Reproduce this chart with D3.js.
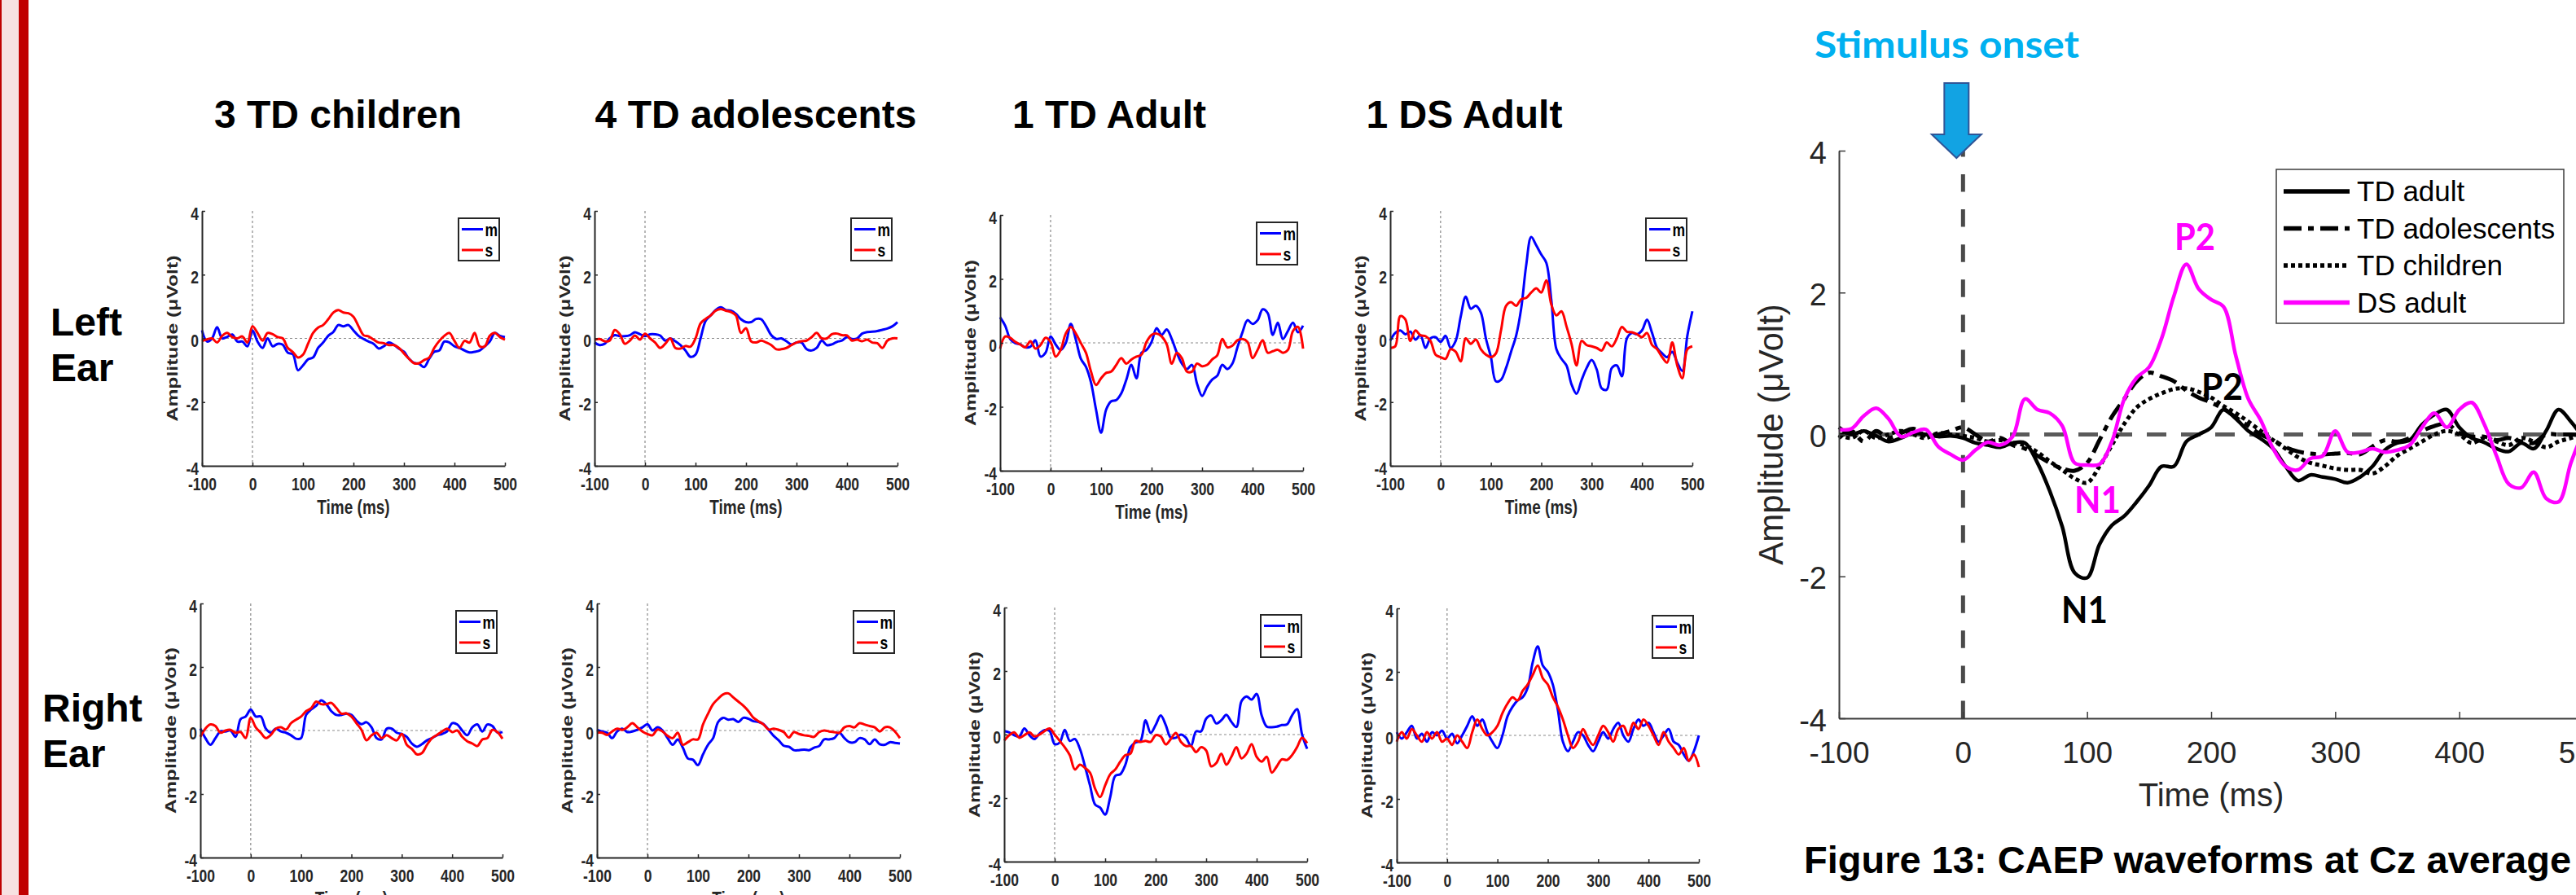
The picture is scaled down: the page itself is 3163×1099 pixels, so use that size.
<!DOCTYPE html>
<html>
<head>
<meta charset="utf-8">
<script src="https://cdn.jsdelivr.net/npm/d3@7"></script>
<style>
  body { margin: 0; background: #fff; }
  svg { display: block; }
</style>
</head>
<body>
<div id="container"></div>
<script>
/* CONSTANTS AND GLOBALS */
const width = 3163,
  height = 1099,
  K = 1.3, // the small panels are stretched vertically in the original
  FONT = "'Liberation Sans', Arial, Helvetica, sans-serif";

/* DATA */
// sample times (ms)
const times = [-100, -90, -80, -70, -60, -50, -40, -30, -20, -10,
  0, 10, 20, 30, 40, 50, 60, 70, 80, 90,
  100, 110, 120, 130, 140, 150, 160, 170, 180, 190,
  200, 210, 220, 230, 240, 250, 260, 270, 280, 290,
  300, 310, 320, 330, 340, 350, 360, 370, 380, 390,
  400, 410, 420, 430, 440, 450, 460, 470, 480, 490, 500];

const groupTitles = ["3 TD children", "4 TD adolescents", "1 TD Adult", "1 DS Adult"];
const earLabels = [["Left", "Ear"], ["Right", "Ear"]];
const legendKeys = ["m", "s"];
const xTicks = [-100, 0, 100, 200, 300, 400, 500];
const yTicks = [-4, -2, 0, 2, 4];

// left ear, amplitude (uV)
const childrenLeftM = [0.25, -0.1, 0.0, 0.35, 0.0, 0.05, 0.12, -0.1, -0.1, -0.25,
  0.25, -0.1, -0.3, 0.0, -0.25, -0.17, -0.2, -0.45, -0.5, -1.0,
  -0.85, -0.66, -0.6, -0.3, -0.13, 0.08, 0.2, 0.42, 0.38, 0.42,
  0.25, 0.08, -0.02, -0.1, -0.17, -0.32, -0.25, -0.13, -0.2, -0.32,
  -0.42, -0.64, -0.77, -0.8, -0.9, -0.64, -0.42, -0.38, -0.1, -0.13,
  -0.25, -0.3, -0.38, -0.44, -0.42, -0.38, -0.25, -0.1, 0.17, 0.08, 0.04];
const childrenLeftS = [-0.08, -0.03, 0.0, -0.13, 0.08, 0.17, 0.04, 0.0, 0.06, -0.13,
  0.38, 0.17, -0.07, 0.17, 0.13, 0.04, 0.0, -0.3, -0.43, -0.6,
  -0.51, -0.17, 0.17, 0.34, 0.42, 0.6, 0.81, 0.89, 0.81, 0.79,
  0.68, 0.38, 0.1, 0.06, -0.04, -0.13, -0.15, -0.21, -0.21, -0.3,
  -0.47, -0.64, -0.78, -0.78, -0.68, -0.6, -0.3, -0.08, 0.08, 0.17,
  -0.08, -0.3, -0.08, -0.13, 0.17, -0.25, -0.25, 0.08, 0.17, 0.04, -0.04];
const adolLeftM = [-0.13, -0.21, -0.17, 0.0, 0.1, 0.07, 0.07, 0.1, 0.19, 0.13,
  0.07, 0.13, 0.13, 0.09, -0.07, 0.0, -0.09, -0.21, -0.38, -0.58,
  -0.51, 0.0, 0.55, 0.72, 0.89, 0.98, 0.89, 0.87, 0.77, 0.6,
  0.51, 0.51, 0.61, 0.6, 0.38, 0.1, -0.02, 0.0, -0.09, -0.19,
  -0.13, -0.13, -0.34, -0.38, -0.3, -0.07, -0.21, -0.19, -0.11, -0.07,
  0.04, -0.02, 0.0, 0.15, 0.2, 0.21, 0.23, 0.27, 0.31, 0.38, 0.51];
const adolLeftS = [-0.04, -0.02, -0.09, -0.07, 0.26, 0.13, -0.17, -0.07, 0.09, -0.04,
  0.15, 0.0, -0.13, -0.3, -0.17, 0.0, -0.3, -0.32, -0.24, -0.26,
  0.0, 0.47, 0.61, 0.72, 0.87, 0.92, 0.87, 0.83, 0.72, 0.17,
  0.32, -0.09, -0.13, -0.07, -0.13, -0.21, -0.34, -0.34, -0.3, -0.21,
  -0.13, -0.09, -0.07, 0.04, 0.17, 0.0, 0.0, 0.13, 0.15, 0.1,
  0.09, -0.07, -0.04, -0.09, -0.04, -0.13, -0.15, -0.3, -0.07, 0.0, 0.0];
const adultLeftM = [0.8, 0.54, 0.12, -0.01, -0.05, -0.14, -0.12, 0.08, -0.43, -0.31,
  0.2, -0.05, -0.22, -0.01, 0.59, 0.1, -0.5, -0.75, -1.24, -2.09,
  -2.81, -2.09, -1.83, -1.79, -1.58, -1.15, -0.69, -1.11, -0.31, -0.22,
  0.03, 0.46, 0.25, 0.42, 0.12, -0.31, -0.65, -0.82, -0.69, -1.28,
  -1.66, -1.37, -1.15, -1.03, -0.69, -0.82, -0.65, -0.14, 0.33, 0.71,
  0.59, 0.71, 1.05, 0.93, 0.25, 0.63, 0.12, 0.37, 0.63, 0.33, 0.54];
const adultLeftS = [-0.18, 0.2, 0.16, 0.03, -0.05, -0.14, 0.05, -0.18, -0.07, 0.16,
  0.03, -0.43, -0.22, 0.29, 0.5, 0.29, -0.01, -0.31, -0.9, -1.32,
  -1.11, -0.94, -0.9, -0.69, -0.48, -0.65, -0.52, -0.43, -0.37, 0.03,
  0.25, 0.29, 0.2, -0.05, -0.65, -0.31, -0.48, -0.9, -0.9, -0.65,
  -0.73, -0.69, -0.52, -0.39, 0.12, -0.14, -0.09, 0.08, 0.12, 0.03,
  -0.48, -0.22, 0.08, -0.31, -0.26, -0.22, -0.31, -0.22, 0.37, 0.5, -0.18];
const dsLeftM = [-0.07, 0.17, 0.25, 0.13, 0.21, -0.04, 0.1, -0.3, 0.0, 0.04,
  -0.11, 0.08, -0.3, -0.08, 0.68, 1.31, 0.93, 1.02, 0.81, 0.0,
  -0.59, -1.35, -1.3, -0.93, -0.42, 0.08, 0.93, 2.29, 3.18, 2.92,
  2.63, 2.37, 1.19, -0.34, -0.64, -0.85, -1.44, -1.74, -1.31, -0.93,
  -0.68, -0.97, -1.57, -1.61, -0.93, -0.85, -1.19, 0.0, 0.17, 0.13,
  0.25, 0.59, 0.17, -0.3, -0.47, -0.59, -0.42, -0.76, -1.02, 0.08, 0.85];
const dsLeftS = [-0.3, -0.25, 0.7, 0.6, -0.08, 0.25, 0.1, 0.07, -0.08, -0.51,
  -0.59, -0.64, -0.34, -0.42, -0.72, 0.0, -0.17, -0.04, -0.34, -0.51,
  -0.59, -0.47, 0.25, 1.02, 1.14, 1.02, 1.23, 1.27, 1.44, 1.57,
  1.44, 1.82, 1.06, 0.72, 0.85, 0.38, -0.17, -0.85, -0.08, -0.21,
  -0.25, -0.3, -0.38, -0.13, -0.25, 0.0, 0.36, 0.21, 0.19, 0.13,
  0.04, 0.17, -0.21, -0.34, -0.59, -0.76, -0.13, -0.85, -1.25, -0.34, -0.25];

// right ear
const childrenRightM = [0.06, -0.24, -0.45, -0.24, -0.03, -0.03, 0.0, -0.2, 0.36, 0.44,
  0.66, 0.44, 0.44, 0.06, -0.07, 0.06, -0.03, -0.07, -0.15, -0.26,
  -0.24, 0.49, 0.66, 0.78, 0.95, 0.83, 0.61, 0.49, 0.49, 0.53,
  0.49, 0.31, 0.2, 0.26, 0.1, -0.24, -0.28, 0.06, 0.06, -0.07,
  -0.11, -0.2, -0.41, -0.51, -0.43, -0.31, -0.24, -0.15, -0.11, -0.03,
  0.23, 0.19, 0.0, -0.15, 0.1, 0.19, -0.03, 0.19, 0.14, -0.07, -0.05];
const childrenRightS = [-0.2, 0.06, 0.19, 0.14, -0.07, 0.0, 0.02, -0.07, -0.05, -0.24,
  0.4, 0.1, -0.07, -0.24, -0.14, 0.06, 0.1, 0.03, 0.23, 0.34,
  0.44, 0.61, 0.7, 0.91, 0.83, 0.83, 0.87, 0.71, 0.53, 0.54,
  0.44, 0.23, 0.02, -0.31, -0.15, -0.07, -0.24, -0.15, -0.24, -0.31,
  -0.11, -0.45, -0.58, -0.75, -0.71, -0.45, -0.24, -0.14, -0.03, 0.06,
  -0.05, 0.0, -0.2, -0.34, -0.41, -0.49, -0.28, -0.24, 0.02, -0.05, -0.26];
const adolRightM = [0.02, -0.03, -0.07, -0.24, -0.03, 0.06, -0.05, -0.03, 0.02, 0.1,
  0.2, 0.0, 0.1, 0.0, -0.24, -0.45, -0.28, -0.54, -0.88, -0.92,
  -1.09, -0.75, -0.45, -0.24, 0.27, 0.4, 0.34, 0.36, 0.27, 0.4,
  0.37, 0.29, 0.27, 0.2, 0.02, -0.17, -0.31, -0.48, -0.51, -0.62,
  -0.62, -0.6, -0.62, -0.54, -0.49, -0.28, -0.28, -0.24, -0.07, -0.24,
  -0.37, -0.37, -0.24, -0.28, -0.43, -0.28, -0.43, -0.45, -0.37, -0.39, -0.41];
const adolRightS = [-0.07, -0.07, -0.14, -0.03, 0.06, 0.02, 0.1, 0.23, 0.1, -0.03,
  -0.11, -0.15, 0.03, -0.03, -0.17, -0.24, -0.07, -0.45, -0.37, -0.28,
  -0.28, 0.19, 0.53, 0.83, 1.0, 1.14, 1.17, 1.04, 0.91, 0.78,
  0.61, 0.4, 0.29, 0.19, 0.03, 0.06, 0.02, -0.05, -0.22, -0.05,
  -0.11, -0.15, -0.17, -0.2, -0.05, 0.0, -0.03, -0.05, -0.07, 0.1,
  0.14, 0.1, 0.23, 0.19, 0.14, 0.1, -0.03, 0.1, 0.1, -0.03, -0.24];
const adultRightM = [0.11, 0.07, -0.02, -0.06, 0.19, -0.02, -0.14, 0.03, 0.14, 0.11,
  -0.3, -0.25, 0.15, -0.2, -0.14, -0.45, -1.0, -1.6, -2.2, -2.3,
  -2.52, -1.97, -1.3, -1.25, -0.95, -0.4, -0.25, -0.2, 0.45, 0.05,
  0.3, 0.6, 0.3, -0.1, -0.1, 0.0, -0.1, -0.36, 0.1, 0.1,
  0.5, 0.6, 0.35, 0.45, 0.62, 0.4, 0.24, 1.05, 1.2, 1.1,
  1.28, 0.6, 0.25, 0.23, 0.25, 0.3, 0.32, 0.6, 0.8, 0.0, -0.45];
const adultRightS = [-0.19, -0.02, 0.07, -0.1, -0.02, 0.07, -0.06, 0.0, 0.11, 0.19,
  0.0, -0.2, -0.4, -0.65, -1.1, -0.95, -1.05, -1.2, -1.7, -1.97,
  -1.6, -1.25, -1.1, -0.85, -0.65, -0.6, -0.2, -0.23, -0.2, -0.23,
  -0.02, -0.06, -0.31, -0.14, 0.05, -0.23, -0.36, -0.36, -0.55, -0.4,
  -0.5, -1.0, -0.9, -0.6, -0.95, -0.7, -0.4, -0.75, -0.6, -0.3,
  -0.7, -0.85, -0.7, -1.2, -1.0, -0.78, -0.8, -0.65, -0.4, -0.1, -0.27];
const dsRightM = [0.1, -0.1, 0.1, 0.3, -0.1, 0.05, -0.2, 0.1, 0.0, 0.15,
  -0.1, 0.05, -0.25, 0.0, 0.3, 0.6, 0.3, 0.5, 0.1, -0.2,
  -0.4, 0.0, 0.6, 0.9, 1.1, 1.2, 1.5, 2.3, 2.8, 2.2,
  2.0, 1.6, 0.8, -0.2, -0.5, -0.2, 0.1, 0.0, -0.3, -0.5,
  -0.2, 0.1, -0.1, 0.2, 0.4, 0.0, -0.2, 0.2, 0.5, 0.3,
  0.4, 0.1, -0.2, 0.0, 0.2, -0.2, -0.3, -0.6, -0.8, -0.5, 0.0];
const dsRightS = [-0.2, 0.1, -0.1, 0.2, 0.0, -0.2, 0.1, -0.1, 0.1, -0.2,
  -0.1, -0.3, 0.0, -0.2, -0.4, 0.1, 0.5, 0.2, 0.0, 0.1,
  0.3, 0.7, 1.0, 1.2, 1.1, 1.4, 1.6, 1.9, 2.2, 1.8,
  1.6, 1.2, 0.9, 0.5, 0.0, -0.4, -0.2, 0.2, -0.1, -0.3,
  0.0, 0.3, 0.1, -0.2, 0.2, 0.3, 0.0, 0.4, 0.2, 0.5,
  0.3, 0.0, -0.3, 0.1, -0.2, -0.4, -0.6, -0.4, -0.8, -0.6, -1.0];

// grand averages at Cz
const bigKeys = ["TD adult", "TD adolescents", "TD children", "DS adult"];
const tdAdult = [0.1, 0.0, 0.05, -0.02, -0.1, -0.05, 0.02, 0.0, -0.03, -0.02,
  -0.05, -0.12, -0.15, -0.18, -0.12, -0.12, -0.4, -0.8, -1.3, -1.95,
  -2.02, -1.55, -1.28, -1.15, -0.95, -0.72, -0.45, -0.45, -0.1, 0.0,
  0.1, 0.35, 0.22, 0.05, -0.06, -0.2, -0.45, -0.65, -0.57, -0.6,
  -0.63, -0.68, -0.6, -0.45, -0.22, -0.12, -0.08, 0.14, 0.28, 0.35,
  0.1, -0.05, -0.11, -0.2, -0.24, -0.12, -0.2, 0.05, 0.35, 0.18, -0.05];
const tdAdolescents = [-0.05, 0.05, -0.1, 0.05, -0.05, 0.02, 0.08, -0.02, 0.0, 0.05,
  0.1, 0.0, -0.1, -0.05, -0.15, -0.2, -0.3, -0.4, -0.48, -0.51,
  -0.4, -0.08, 0.25, 0.5, 0.75, 0.87, 0.82, 0.75, 0.62, 0.52,
  0.45, 0.36, 0.24, 0.12, 0.0, -0.08, -0.18, -0.24, -0.27, -0.28,
  -0.27, -0.26, -0.28, -0.17, -0.08, -0.1, -0.05, 0.05, 0.12, 0.15,
  0.02, -0.03, -0.03, -0.08, -0.05, -0.1, -0.12, 0.0, 0.0, 0.0, -0.02];
const tdChildren = [0.0, -0.05, 0.05, -0.05, 0.0, 0.05, 0.0, -0.05, 0.02, 0.0,
  -0.02, -0.05, -0.1, -0.08, -0.12, -0.15, -0.25, -0.38, -0.5, -0.62,
  -0.68, -0.45, -0.15, 0.15, 0.38, 0.5, 0.58, 0.64, 0.65, 0.6,
  0.52, 0.4, 0.3, 0.18, 0.05, -0.08, -0.2, -0.32, -0.4, -0.44,
  -0.48, -0.5, -0.5, -0.55, -0.45, -0.3, -0.2, -0.1, 0.0, 0.05,
  0.0, -0.12, -0.05, -0.1, -0.15, -0.05, -0.1, -0.18, -0.1, -0.05, 0.0];
const dsAdult = [0.07, 0.08, 0.26, 0.37, 0.22, -0.03, 0.03, 0.07, -0.17, -0.28,
  -0.36, -0.22, -0.11, -0.15, -0.03, 0.5, 0.35, 0.3, 0.12, -0.4,
  -0.43, -0.42, -0.1, 0.5, 0.8, 0.95, 1.35, 1.95, 2.4, 2.05,
  1.9, 1.8, 1.1, 0.5, 0.2, -0.2, -0.45, -0.5, -0.34, -0.3,
  0.05, -0.25, -0.25, -0.2, -0.25, -0.22, -0.15, 0.1, 0.3, 0.1,
  0.35, 0.45, 0.15, -0.3, -0.7, -0.75, -0.53, -0.9, -0.95, -0.4, 0.05];

const smallM = [[childrenLeftM, adolLeftM, adultLeftM, dsLeftM],
  [childrenRightM, adolRightM, adultRightM, dsRightM]];
const smallS = [[childrenLeftS, adolLeftS, adultLeftS, dsLeftS],
  [childrenRightS, adolRightS, adultRightS, dsRightS]];
const bigSeries = [tdAdult, tdAdolescents, tdChildren, dsAdult];

/* LAYOUT */
// plot boxes of the small panels (left, right, top, bottom)
const boxes = [
  [{ l: 248, r: 620, t: 259, b: 572 }, { l: 730, r: 1102, t: 259, b: 572 },
   { l: 1228, r: 1600, t: 264, b: 578 }, { l: 1707, r: 2078, t: 259, b: 572 }],
  [{ l: 246, r: 617, t: 741, b: 1053 }, { l: 733, r: 1105, t: 741, b: 1053 },
   { l: 1233, r: 1605, t: 746, b: 1058 }, { l: 1715, r: 2086, t: 747, b: 1059 }]
];
const titleX = [415, 928, 1362, 1798];

const svg = d3.select("#container")
  .append("svg")
  .attr("width", width)
  .attr("height", height)
  .style("font-family", FONT);

// slide border on the left
svg.append("rect").attr("x", 0).attr("y", 0).attr("width", 23).attr("height", height).attr("fill", "#f7e1e1");
svg.append("rect").attr("x", 0).attr("y", 0).attr("width", 2).attr("height", height).attr("fill", "#c00000");
svg.append("rect").attr("x", 23).attr("y", 0).attr("width", 12).attr("height", height).attr("fill", "#c00000");

// column titles and row labels
groupTitles.forEach((t, i) => {
  svg.append("text")
    .attr("x", titleX[i]).attr("y", 157)
    .attr("text-anchor", "middle")
    .style("font-size", "48px").style("font-weight", "bold")
    .text(t);
});
const earPos = [{ x: 62, y: 412 }, { x: 52, y: 886 }];
earLabels.forEach((lab, r) => {
  lab.forEach((w, j) => {
    svg.append("text")
      .attr("x", earPos[r].x).attr("y", earPos[r].y + j * 56)
      .style("font-size", "48px").style("font-weight", "bold")
      .text(w);
  });
});

// stretched text for the small panels
function sText(sel, x, y, str, size, anchor, rotate) {
  return sel.append("text")
    .attr("transform", `translate(${x},${y}) scale(1,${K})` + (rotate ? " rotate(-90)" : ""))
    .attr("text-anchor", anchor)
    .style("font-size", size + "px")
    .style("font-weight", "bold")
    .attr("fill", "#262626")
    .text(str);
}

function drawSmall(box, mVals, sVals) {
  const xScale = d3.scaleLinear().domain([-100, 500]).range([box.l, box.r]);
  const yScale = d3.scaleLinear().domain([-4, 4]).range([box.b, box.t]);
  const g = svg.append("g");

  // dashed zero lines
  g.append("line")
    .attr("x1", xScale(0)).attr("x2", xScale(0))
    .attr("y1", yScale(4)).attr("y2", yScale(-4))
    .attr("stroke", "#8a8a8a").attr("stroke-width", 1.2)
    .attr("stroke-dasharray", "3,3");
  g.append("line")
    .attr("x1", xScale(-100)).attr("x2", xScale(500))
    .attr("y1", yScale(0)).attr("y2", yScale(0))
    .attr("stroke", "#8a8a8a").attr("stroke-width", 1.2)
    .attr("stroke-dasharray", "3,3");

  const line = d3.line()
    .x((d, i) => xScale(times[i]))
    .y(d => yScale(d))
    .curve(d3.curveCatmullRom);

  g.append("path").datum(mVals)
    .attr("d", line).attr("fill", "none")
    .attr("stroke", "#0000ff").attr("stroke-width", 3);
  g.append("path").datum(sVals)
    .attr("d", line).attr("fill", "none")
    .attr("stroke", "#ff0000").attr("stroke-width", 3);

  // axes
  const xAxis = d3.axisBottom(xScale).tickValues(xTicks).tickSize(-4).tickSizeOuter(0).tickFormat(d => d);
  const gx = g.append("g").attr("transform", `translate(0,${box.b})`).call(xAxis)
    .attr("font-size", null).attr("font-family", null);
  gx.selectAll(".tick text")
    .attr("y", null).attr("dy", null)
    .attr("transform", `translate(0,30) scale(1,${K})`)
    .attr("fill", "#262626")
    .style("font-size", "17.5px").style("font-weight", "bold");

  const yAxis = d3.axisLeft(yScale).tickValues(yTicks).tickSize(-4).tickSizeOuter(0).tickFormat(d => d);
  const gy = g.append("g").attr("transform", `translate(${box.l},0)`).call(yAxis)
    .attr("font-size", null).attr("font-family", null);
  gy.selectAll(".tick text")
    .attr("x", null).attr("dy", null)
    .attr("transform", `translate(-4,10) scale(1,${K})`)
    .attr("fill", "#262626")
    .style("font-size", "17.5px").style("font-weight", "bold");

  [gx, gy].forEach(a => {
    a.select(".domain").attr("stroke", "#262626").attr("stroke-width", 2);
    a.selectAll(".tick line").attr("stroke", "#262626").attr("stroke-width", 1.5);
  });

  sText(g, (box.l + box.r) / 2, box.b + 59, "Time (ms)", 19, "middle", false);
  sText(g, box.l - 30, (box.t + box.b) / 2, "Amplitude (\u03bcVolt)", 19, "middle", true);

  // legend
  const lg = g.append("g").attr("transform", `translate(${box.r - 57},${box.t + 9})`);
  lg.append("rect")
    .attr("width", 50).attr("height", 52)
    .attr("fill", "#fff").attr("stroke", "#262626").attr("stroke-width", 2);
  legendKeys.forEach((k, i) => {
    const ly = 13.5 + i * 25.5;
    lg.append("line")
      .attr("x1", 4).attr("x2", 30).attr("y1", ly).attr("y2", ly)
      .attr("stroke", i === 0 ? "#0000ff" : "#ff0000").attr("stroke-width", 3);
    sText(lg, 32.5, ly + 8, k, 17.5, "start", false).attr("fill", "#000");
  });
}

boxes.forEach((row, r) => row.forEach((box, c) => drawSmall(box, smallM[r][c], smallS[r][c])));

/* BIG CHART */
const xb = d3.scaleLinear().domain([-100, 500]).range([2258, 3172]);
const yb = d3.scaleLinear().domain([-4, 4]).range([882, 185]);
const big = svg.append("g");

// zero lines
big.append("line")
  .attr("x1", xb(0)).attr("x2", xb(0))
  .attr("y1", yb(-4)).attr("y2", yb(4))
  .attr("stroke", "#4a4a4a").attr("stroke-width", 5)
  .attr("stroke-dasharray", "21.5,21.6");
big.append("line")
  .attr("x1", xb(-100)).attr("x2", xb(500))
  .attr("y1", yb(0)).attr("y2", yb(0))
  .attr("stroke", "#5a5a5a").attr("stroke-width", 5)
  .attr("stroke-dasharray", "24,18");

const bigStyles = [
  { color: "#000", dash: null, w: 4.5 },
  { color: "#000", dash: "22,8,7,8", w: 5 },
  { color: "#000", dash: "5,4", w: 5 },
  { color: "#ff00ff", dash: null, w: 4.5 }
];
const bigLine = d3.line()
  .x((d, i) => xb(times[i]))
  .y(d => yb(d))
  .curve(d3.curveCatmullRom);
bigSeries.forEach((s, i) => {
  big.append("path").datum(s)
    .attr("d", bigLine).attr("fill", "none")
    .attr("stroke", bigStyles[i].color)
    .attr("stroke-width", bigStyles[i].w)
    .attr("stroke-dasharray", bigStyles[i].dash);
});

// axes
const bxAxis = d3.axisBottom(xb).tickValues(xTicks).tickSize(-8).tickSizeOuter(0).tickFormat(d => d);
const bgx = big.append("g").attr("transform", `translate(0,${yb(-4)})`).call(bxAxis)
  .attr("font-size", null).attr("font-family", null);
bgx.selectAll(".tick text")
  .attr("y", 55).attr("dy", null)
  .attr("fill", "#262626").style("font-size", "37px");
const byAxis = d3.axisLeft(yb).tickValues(yTicks).tickSize(-8).tickSizeOuter(0).tickFormat(d => d);
const bgy = big.append("g").attr("transform", `translate(${xb(-100)},0)`).call(byAxis)
  .attr("font-size", null).attr("font-family", null);
bgy.selectAll(".tick text")
  .attr("x", -15).attr("dy", null).attr("y", 15)
  .attr("fill", "#262626").style("font-size", "38px");
[bgx, bgy].forEach(a => {
  a.select(".domain").attr("stroke", "#3c3c3c").attr("stroke-width", 2);
  a.selectAll(".tick line").attr("stroke", "#3c3c3c").attr("stroke-width", 1.5);
});

big.append("text")
  .attr("x", xb(200)).attr("y", 990)
  .attr("text-anchor", "middle")
  .attr("fill", "#262626")
  .style("font-size", "40px")
  .text("Time (ms)");
big.append("text")
  .attr("transform", `translate(2189,${(yb(4) + yb(-4)) / 2}) rotate(-90)`)
  .attr("text-anchor", "middle")
  .attr("fill", "#262626")
  .style("font-size", "42px")
  .text("Amplitude (\u03bcVolt)");

// legend
const blg = big.append("g").attr("transform", "translate(2795,208)");
blg.append("rect")
  .attr("width", 353).attr("height", 189)
  .attr("fill", "#fff").attr("stroke", "#3c3c3c").attr("stroke-width", 1.5);
bigKeys.forEach((k, i) => {
  const ly = 27 + i * 45.5;
  blg.append("line")
    .attr("x1", 9).attr("x2", 90).attr("y1", ly).attr("y2", ly)
    .attr("stroke", bigStyles[i].color)
    .attr("stroke-width", 5.5)
    .attr("stroke-dasharray", bigStyles[i].dash);
  blg.append("text")
    .attr("x", 99).attr("y", ly + 12)
    .style("font-size", "35px")
    .text(k);
});

// peak annotations
const peaks = [
  { t: "P2", x: 2670, y: 307, len: 50, color: "#ff00ff" },
  { t: "P2", x: 2703, y: 491, len: 51, color: "#000" },
  { t: "N1", x: 2547, y: 630, len: 57, color: "#ff00ff" },
  { t: "N1", x: 2531, y: 765, len: 57, color: "#000" }
];
peaks.forEach(p => {
  big.append("text")
    .attr("x", p.x).attr("y", p.y)
    .attr("textLength", p.len).attr("lengthAdjust", "spacingAndGlyphs")
    .attr("fill", p.color)
    .style("font-family", "Lato, 'Open Sans', sans-serif")
    .style("font-weight", "bold")
    .style("font-size", "45px")
    .text(p.t);
});

// stimulus onset arrow
const ax = xb(0) - 8;
const arrowPts = [[ax - 15, 102], [ax + 15, 102], [ax + 15, 165], [ax + 30.5, 165],
  [ax, 194], [ax - 30.5, 165], [ax - 15, 165]];
big.append("polygon")
  .attr("points", arrowPts.map(p => p.join(",")).join(" "))
  .attr("fill", "#12a3e3").attr("stroke", "#2f5597").attr("stroke-width", 2);
big.append("text")
  .attr("x", 2228).attr("y", 71)
  .attr("textLength", 325).attr("lengthAdjust", "spacingAndGlyphs")
  .attr("fill", "#00b0f0")
  .style("font-family", "Lato, 'Open Sans', sans-serif")
  .style("font-weight", "bold")
  .style("font-size", "45px")
  .text("Stimulus onset");

// caption
big.append("text")
  .attr("x", 2215).attr("y", 1072)
  .style("font-size", "47px").style("font-weight", "bold")
  .text("Figure 13: CAEP waveforms at Cz average");
</script>
</body>
</html>
